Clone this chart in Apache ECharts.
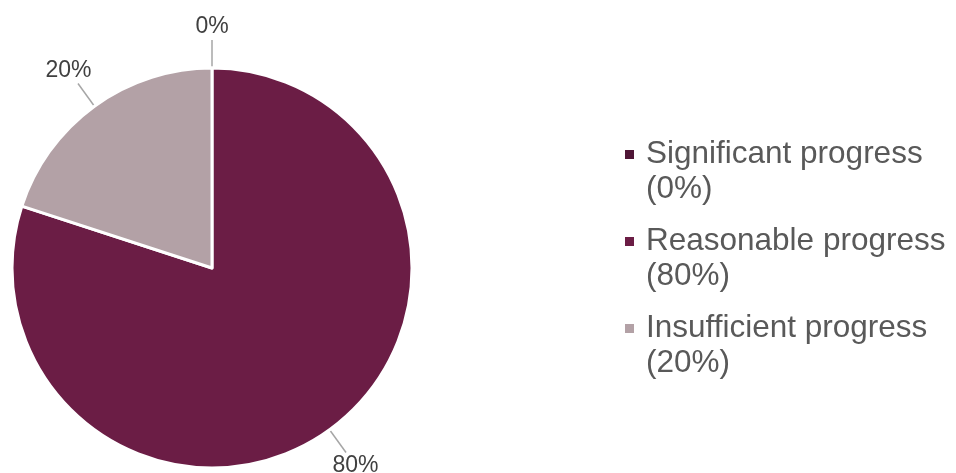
<!DOCTYPE html>
<html>
<head>
<meta charset="utf-8">
<script src="https://cdn.jsdelivr.net/npm/echarts@6/dist/echarts.min.js"></script>
<style>
  html, body { margin: 0; padding: 0; background: #fff; }
  #chart { width: 956px; height: 473px; }
</style>
</head>
<body>
<div id="chart"></div>
<script>
const categories = ['Significant progress', 'Reasonable progress', 'Insufficient progress'];
const values = [0, 80, 20];
const colors = ['#4f1636', '#6b1d45', '#b3a1a6'];

const chart = echarts.init(document.getElementById('chart'));

// push each label out past the end of its leader line, like the original
function placeLabel(params) {
  const pts = params.labelLinePoints;
  if (!pts || pts.length < 2) return {};
  const a = pts[0];
  const b = pts[pts.length - 1];
  let dx = b[0] - a[0];
  let dy = b[1] - a[1];
  const len = Math.sqrt(dx * dx + dy * dy) || 1;
  dx /= len;
  dy /= len;
  const w = params.labelRect.width / 2;
  const h = params.labelRect.height / 2;
  const t = Math.min(Math.abs(dx) > 1e-6 ? w / Math.abs(dx) : Infinity,
                     Math.abs(dy) > 1e-6 ? h / Math.abs(dy) : Infinity) + 2;
  return {
    x: b[0] + dx * t,
    y: b[1] + dy * t,
    align: 'center',
    verticalAlign: 'middle',
    labelLinePoints: pts
  };
}

const option = {
  animation: false,
  color: colors,
  legend: {
    orient: 'vertical',
    left: 623,
    top: 102,
    padding: 0,
    icon: 'rect',
    itemWidth: 11,
    itemHeight: 11,
    itemGap: -18,
    // blank first line keeps the marker level with the name line
    formatter: function (name) {
      const i = categories.indexOf(name);
      return ' \n' + name + '\n(' + values[i] + '%)';
    },
    textStyle: {
      fontFamily: 'Liberation Sans, Arial, sans-serif',
      fontSize: 31.5,
      lineHeight: 35,
      color: '#595959',
      padding: [0, 0, 0, 6]
    },
    data: categories
  },
  series: [
    {
      type: 'pie',
      center: [212, 268],
      radius: 200,
      startAngle: 90,
      clockwise: true,
      avoidLabelOverlap: false,
      itemStyle: { borderColor: '#fff', borderWidth: 3 },
      label: {
        show: true,
        formatter: '{c}%',
        fontFamily: 'Liberation Sans, Arial, sans-serif',
        fontSize: 23,
        color: '#404040'
      },
      labelLine: {
        show: true,
        length: 28,
        length2: 0,
        lineStyle: { color: '#a6a6a6', width: 1.5 }
      },
      labelLayout: placeLabel,
      emphasis: { disabled: true },
      data: categories.map((c, i) => ({ name: c, value: values[i] }))
    }
  ]
};

chart.setOption(option);
</script>
</body>
</html>
